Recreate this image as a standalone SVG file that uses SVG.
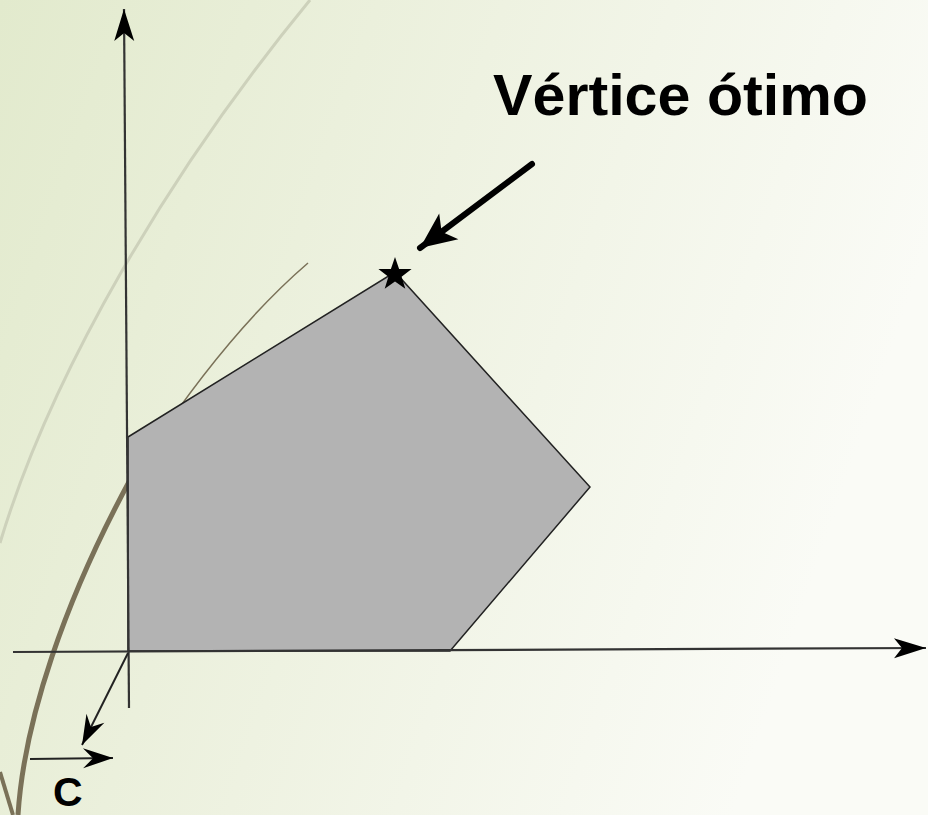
<svg xmlns="http://www.w3.org/2000/svg" width="928" height="815" viewBox="0 0 928 815">
<defs>
<linearGradient id="bg" x1="0" y1="0" x2="1" y2="0.3">
<stop offset="0" stop-color="#e2eacd"/>
<stop offset="0.5" stop-color="#eef2e1"/>
<stop offset="1" stop-color="#fafbf6"/>
</linearGradient>
<marker id="axhead" markerUnits="userSpaceOnUse" viewBox="-34 -12 36 24" markerWidth="36" markerHeight="24" refX="0" refY="0" orient="auto">
<path d="M0,0 L-32,-10 L-24,0 L-32,10 Z" fill="#000"/>
</marker>
<marker id="smallhead" markerUnits="userSpaceOnUse" viewBox="-32 -12 34 24" markerWidth="34" markerHeight="24" refX="0" refY="0" orient="auto">
<path d="M0,0 L-30,-10 L-20,0 L-30,10 Z" fill="#000"/>
</marker>
<marker id="bighead" markerUnits="userSpaceOnUse" viewBox="-40 -18 42 36" markerWidth="42" markerHeight="36" refX="0" refY="0" orient="auto">
<path d="M0,0 L-36,-16 L-27,0 L-36,16 Z" fill="#000"/>
</marker>
<style>
.axis{stroke:#333;stroke-width:2.2;fill:none}
.arrow{stroke:#222;stroke-width:2;fill:none}
.label{font-family:"Liberation Sans","DejaVu Sans",sans-serif;fill:#000}
</style>
</defs>
<rect width="928" height="815" fill="url(#bg)"/>
<g id="decor">
<path d="M310,0 C170,170 51,373 0,543" fill="none" stroke="#cdd1bb" stroke-width="3"/>
<path d="M18,815 C24,720 65,600 130,480" fill="none" stroke="#7a7158" stroke-width="5"/>
<path d="M150,450 C170,420 230,330 308,263" fill="none" stroke="#7a7158" stroke-width="1.5"/>
<path d="M0,772 L13,815" fill="none" stroke="#7a7158" stroke-width="4"/>
</g>
<g id="region">
<polygon points="128,437 395,272 590,487 450,651 128,651" fill="#b3b3b3" stroke="#222" stroke-width="1.5" stroke-linejoin="miter"/>
</g>
<g id="connectors">
<path class="axis" d="M129,708 L124,9" marker-end="url(#axhead)"/>
<path class="axis" d="M13,652 L926,648" marker-end="url(#axhead)"/>
<path class="arrow" d="M128,653 L82,745" marker-end="url(#smallhead)"/>
<path class="arrow" d="M30,759 L113,758" marker-end="url(#smallhead)"/>
<path d="M532,164 L420,248" stroke="#000" stroke-width="6" stroke-linecap="round" fill="none" marker-end="url(#bighead)"/>
</g>
<g id="star">
<polygon points="395,257 399.1,268.9 411.6,269.1 401.6,276.7 405.3,288.7 395,281.5 384.7,288.7 388.4,276.7 378.4,269.1 390.9,268.9" fill="#000"/>
</g>
<g id="labels">
<text class="label" x="493" y="115" font-size="58" font-weight="bold" textLength="375" lengthAdjust="spacingAndGlyphs">Vértice ótimo</text>
<text class="label" x="53" y="806" font-size="41" font-weight="bold">C</text>
</g>
</svg>
